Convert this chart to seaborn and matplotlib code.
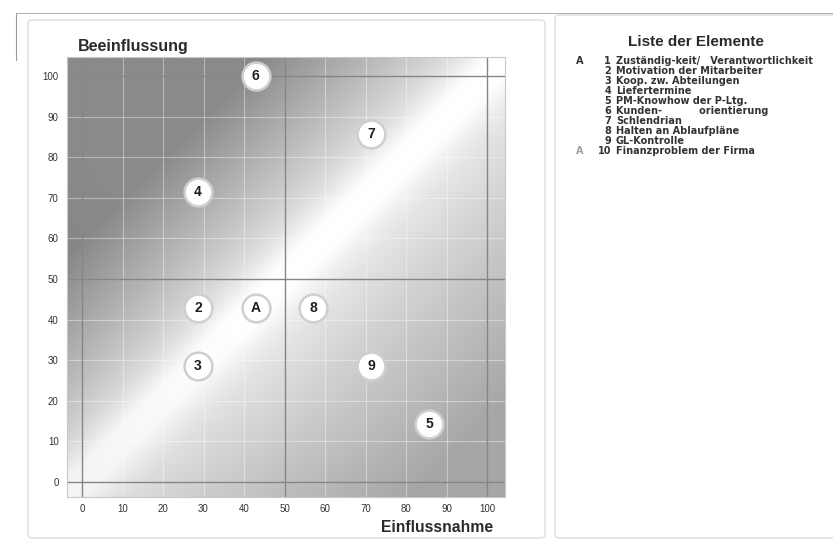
import numpy as np
import pandas as pd
import matplotlib
matplotlib.use("Agg")
import matplotlib.pyplot as plt
from matplotlib.patches import FancyBboxPatch
import seaborn as sns

# ---- data ----
labels = ["6", "7", "4", "2", "A", "8", "3", "9", "5"]
einfluss = [42.9, 71.4, 28.6, 28.6, 42.9, 57.1, 28.6, 71.4, 85.7]
beeinfl = [100.0, 85.7, 71.4, 42.9, 42.9, 42.9, 28.6, 28.6, 14.3]
xticks = [0, 10, 20, 30, 40, 50, 60, 70, 80, 90, 100]
yticks = [0, 10, 20, 30, 40, 50, 60, 70, 80, 90, 100]
list_marks = ["A", "", "", "", "", "", "", "", "", "A"]
list_nums = ["1", "2", "3", "4", "5", "6", "7", "8", "9", "10"]
list_texts = ["Zuständig-keit/   Verantwortlichkeit",
              "Motivation der Mitarbeiter",
              "Koop. zw. Abteilungen",
              "Liefertermine",
              "PM-Knowhow der P-Ltg.",
              "Kunden-           orientierung",
              "Schlendrian",
              "Halten an Ablaufpläne",
              "GL-Kontrolle",
              "Finanzproblem der Firma"]

df = pd.DataFrame({"x": einfluss, "y": beeinfl, "label": labels})

sns.set_style("white")
plt.rcParams["font.family"] = ["Liberation Sans", "DejaVu Sans"]

W, H = 833, 542
fig = plt.figure(figsize=(W / 100, H / 100), dpi=100)
fig.patch.set_facecolor("white")

def fbox(x0, y0, x1, y1, **kw):
    p = FancyBboxPatch((x0 / W, 1 - y1 / H), (x1 - x0) / W, (y1 - y0) / H,
                       boxstyle="round,pad=0,rounding_size=0.006",
                       transform=fig.transFigure, zorder=-10, **kw)
    fig.add_artist(p)

fbox(28, 20, 545, 538, facecolor="white", edgecolor="#e2e2e2", lw=1.2)
fbox(555, 15, 840, 538, facecolor="white", edgecolor="#e2e2e2", lw=1.2)
fig.add_artist(plt.Line2D([16 / W, 1], [1 - 13 / H, 1 - 13 / H], color="#b0b0b0", lw=0.7, zorder=-9))
fig.add_artist(plt.Line2D([16 / W, 16 / W], [1 - 13 / H, 1 - 60 / H], color="#9a9a9a", lw=0.8, zorder=-9))

ax = fig.add_axes([67 / W, 1 - 497 / H, (505 - 67) / W, (497 - 57) / H])
ax.set_zorder(5)
xlim = (-3.7, 104.4)
ylim = (-3.7, 104.7)

# decorative background gradient
gx = np.linspace(xlim[0], xlim[1], 300)
gy = np.linspace(ylim[0], ylim[1], 300)
GX, GY = np.meshgrid(gx, gy)
d = (GX - GY) / 100.0
s = (GX + GY) / 100.0
dark_tl = 0.40 * np.clip((-d - 0.05) / 0.55, 0, 1) ** 0.9
dark_br = 0.29 * np.clip((d - 0.05) / 0.8, 0, 1) ** 0.9
shade = 1 - dark_tl - dark_br
shade = shade - 0.06 * (1 - np.exp(-(d / 0.1) ** 2))
shade = shade - 0.04 * np.clip(1 - s / 0.8, 0, 1)
shade = np.clip(shade, 0, 1)
ax.imshow(shade, cmap="gray", vmin=0, vmax=1, origin="lower",
          extent=(xlim[0], xlim[1], ylim[0], ylim[1]), aspect="auto", zorder=0,
          interpolation="bilinear")

for v in xticks:
    ax.axvline(v, color="white", lw=0.8, alpha=0.4, zorder=1)
    ax.axhline(v, color="white", lw=0.8, alpha=0.4, zorder=1)
for v in [0, 50, 100]:
    ax.axvline(v, color="#858585", lw=1.0, zorder=2)
    ax.axhline(v, color="#858585", lw=1.0, zorder=2)

sns.scatterplot(data=df, x="x", y="y", ax=ax, s=400, color="white",
                edgecolor="#cfcfcf", linewidth=1.8, zorder=3, legend=False)
for xv, yv, lb in zip(df["x"], df["y"], df["label"]):
    ax.text(xv, yv, lb, ha="center", va="center", fontsize=10,
            fontweight="bold", color="#1e1e1e", zorder=4)

ax.set_xlim(*xlim)
ax.set_ylim(*ylim)
ax.set_xticks(xticks)
ax.set_yticks(yticks)
ax.set_xticklabels([str(t) for t in xticks], fontsize=7, color="#333333")
ax.set_yticklabels([str(t) for t in yticks], fontsize=7, color="#333333")
ax.tick_params(axis="both", length=3, width=0.6, color="#888888", pad=3)
ax.tick_params(axis="x", pad=2)
ax.set_xlabel("")
ax.set_ylabel("")
for sp in ax.spines.values():
    sp.set_color("#c8c8c8")
    sp.set_linewidth(0.8)

fig.text(78 / W, 1 - 46 / H, "Beeinflussung", fontsize=11.5, fontweight="bold",
         color="#2a2a2a", ha="left", va="center")
fig.text(493 / W, 1 - 527 / H, "Einflussnahme", fontsize=11.3, fontweight="bold",
         color="#2a2a2a", ha="right", va="center")

fig.text(696 / W, 1 - 42 / H, "Liste der Elemente", fontsize=11, fontweight="bold",
         color="#2a2a2a", ha="center", va="center")
lf = ["DejaVu Sans"]
for i, (m, n, t) in enumerate(zip(list_marks, list_nums, list_texts)):
    yy = 1 - (61 + i * 10) / H
    fig.text(580 / W, yy, m, fontsize=7, fontweight="bold", family=lf,
             color="#333333" if i == 0 else "#a0a0a0", ha="center", va="center")
    fig.text(611 / W, yy, n, fontsize=7, fontweight="bold", family=lf,
             color="#333333", ha="right", va="center")
    fig.text(616 / W, yy, t, fontsize=7, fontweight="bold", family=lf,
             color="#333333", ha="left", va="center")

fig.savefig("out.png", dpi=100)
